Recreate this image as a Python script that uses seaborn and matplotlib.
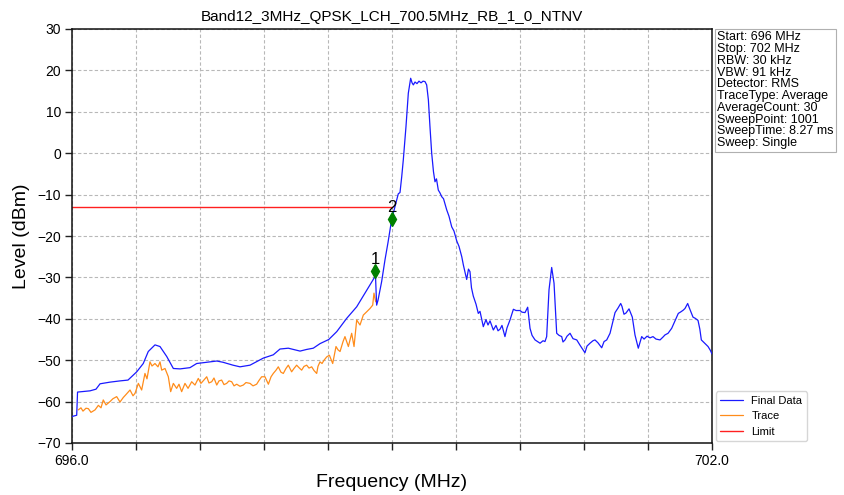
import numpy as np
import pandas as pd
import matplotlib
matplotlib.use("Agg")
import matplotlib.pyplot as plt
import seaborn as sns

# ---- measured spectrum (MHz, dBm) ----
final_freq = [
    696.000, 696.044, 696.052, 696.169, 696.225, 696.263, 696.356, 696.450, 696.525, 696.607,
    696.668, 696.715, 696.778, 696.825, 696.888, 696.950, 697.013, 697.106, 697.169, 697.294,
    697.357, 697.416, 697.509, 697.575, 697.669, 697.793, 697.887, 697.950, 698.028, 698.138,
    698.200, 698.262, 698.325, 698.407, 698.482, 698.575, 698.669, 698.763, 698.822, 698.845,
    698.856, 698.869, 698.903, 698.934, 698.963, 698.997, 699.019, 699.044, 699.059, 699.075,
    699.091, 699.106, 699.131, 699.153, 699.175, 699.188, 699.200, 699.216, 699.234, 699.253,
    699.272, 699.291, 699.309, 699.325, 699.341, 699.356, 699.372, 699.389, 699.403, 699.417,
    699.434, 699.450, 699.466, 699.483, 699.513, 699.534, 699.560, 699.581, 699.607, 699.628,
    699.654, 699.669, 699.700, 699.717, 699.731, 699.745, 699.762, 699.788, 699.809, 699.825,
    699.856, 699.881, 699.900, 699.919, 699.950, 699.975, 699.994, 700.013, 700.031, 700.059,
    700.078, 700.106, 700.138, 700.163, 700.200, 700.219, 700.247, 700.272, 700.294, 700.313,
    700.341, 700.388, 700.416, 700.434, 700.450, 700.472, 700.497, 700.519, 700.544, 700.566,
    700.591, 700.603, 700.622, 700.641, 700.669, 700.697, 700.732, 700.763, 700.791, 700.809,
    700.828, 700.856, 700.884, 700.903, 700.931, 700.966, 700.988, 701.013, 701.044, 701.063,
    701.091, 701.119, 701.144, 701.156, 701.175, 701.194, 701.222, 701.253, 701.278, 701.309,
    701.341, 701.363, 701.391, 701.419, 701.447, 701.475, 701.513, 701.541, 701.559, 701.588,
    701.622, 701.653, 701.684, 701.709, 701.731, 701.747, 701.772, 701.788, 701.822, 701.844,
    701.869, 701.886, 701.900, 701.928, 701.963, 701.984, 702.000,
]
final_level = [
    -63.6, -63.3, -57.7, -57.4, -57.0, -55.7, -55.3, -55.0, -54.8, -52.8,
    -50.8, -47.9, -46.3, -46.7, -49.1, -52.0, -52.1, -51.8, -50.8, -50.4,
    -50.2, -50.5, -51.2, -51.6, -51.2, -49.5, -48.7, -47.3, -47.1, -47.8,
    -47.4, -47.1, -46.0, -45.0, -43.1, -39.9, -37.1, -33.1, -30.6, -29.5,
    -36.7, -35.5, -31.0, -25.8, -21.5, -16.0, -13.8, -11.3, -9.8, -9.5,
    -5.7, -1.6, 6.4, 14.5, 18.1, 17.0, 16.5, 17.2, 16.8, 17.4,
    17.0, 17.4, 17.3, 16.5, 12.9, 6.4, 0.0, -4.5, -6.9, -6.2,
    -8.9, -9.6, -10.5, -11.0, -13.7, -15.2, -17.8, -18.8, -21.2, -22.5,
    -25.0, -27.0, -30.5, -28.0, -28.6, -32.5, -34.5, -36.5, -38.7, -38.2,
    -41.9, -40.2, -41.5, -40.5, -42.7, -41.6, -42.9, -42.5, -41.6, -44.3,
    -42.2, -40.3, -37.7, -38.0, -38.0, -38.4, -38.5, -37.2, -42.3, -44.0,
    -45.1, -45.9, -45.3, -45.5, -44.3, -33.0, -27.6, -31.4, -43.5, -44.0,
    -44.3, -45.6, -45.1, -44.2, -43.5, -44.8, -45.1, -46.4, -47.5, -48.2,
    -46.6, -45.9, -45.3, -45.1, -45.8, -47.0, -45.5, -45.1, -43.5, -41.5,
    -38.5, -37.4, -36.3, -37.0, -38.9, -38.6, -37.6, -39.6, -43.9, -47.1,
    -44.3, -44.9, -44.2, -44.6, -44.3, -44.9, -45.1, -44.4, -43.9, -43.5,
    -42.3, -40.5, -38.7, -38.3, -37.9, -37.5, -36.3, -37.4, -39.6, -39.9,
    -40.4, -42.5, -45.1, -45.8, -46.7, -47.6, -48.5,
]

trace_freq = [
    696.059, 696.084, 696.103, 696.131, 696.153, 696.178, 696.216, 696.247, 696.272, 696.293,
    696.319, 696.356, 696.384, 696.419, 696.450, 696.481, 696.506, 696.544, 696.572, 696.591,
    696.622, 696.653, 696.684, 696.703, 696.731, 696.750, 696.778, 696.806, 696.825, 696.841,
    696.872, 696.903, 696.925, 696.950, 696.981, 697.003, 697.028, 697.059, 697.088, 697.122,
    697.153, 697.184, 697.209, 697.233, 697.263, 697.284, 697.310, 697.331, 697.357, 697.378,
    697.403, 697.425, 697.450, 697.472, 697.497, 697.519, 697.544, 697.575, 697.606, 697.631,
    697.669, 697.697, 697.731, 697.753, 697.778, 697.809, 697.841, 697.866, 697.887, 697.913,
    697.934, 697.959, 697.981, 698.006, 698.028, 698.059, 698.081, 698.106, 698.128, 698.153,
    698.175, 698.200, 698.222, 698.247, 698.269, 698.294, 698.306, 698.325, 698.344, 698.363,
    698.388, 698.413, 698.444, 698.475, 698.494, 698.513, 698.541, 698.559, 698.591, 698.622,
    698.644, 698.669, 698.700, 698.731, 698.763, 698.794, 698.819, 698.831, 698.847,
]
trace_level = [
    -62.0, -61.5, -62.3, -61.6, -61.7, -62.6, -62.0, -60.9, -61.5, -59.6,
    -60.8, -60.0, -59.3, -58.8, -60.1, -59.0, -58.3, -57.2, -58.6, -58.0,
    -55.6, -57.2, -53.2, -54.5, -50.4, -51.4, -50.8, -51.6, -50.4, -52.4,
    -52.0, -54.0, -57.6, -55.6, -56.8, -55.8, -57.6, -55.6, -56.8, -55.2,
    -56.0, -54.4, -55.6, -54.9, -54.0, -55.5, -55.2, -54.3, -56.0, -55.0,
    -54.8, -55.9, -55.6, -55.0, -55.2, -56.2, -55.8, -56.3, -56.0, -55.4,
    -55.6, -56.2, -55.8, -54.9, -54.0, -54.0, -55.8, -54.0, -53.2, -52.4,
    -51.6, -52.9, -53.2, -52.0, -51.2, -52.8, -52.0, -51.2, -51.8, -52.4,
    -51.5, -51.2, -51.9, -51.6, -52.5, -53.2, -51.5, -50.4, -50.8, -50.0,
    -49.2, -48.8, -50.8, -46.7, -47.5, -47.9, -45.5, -44.3, -46.7, -43.5,
    -46.7, -40.3, -41.5, -39.1, -38.3, -37.5, -36.7, -33.8, -35.9,
]

limit_freq = [696.0, 699.0]
limit_level = [-13.0, -13.0]

marker_freq = [698.845, 698.997]
marker_level = [-28.5, -16.0]
marker_names = ["1", "2"]

x_tick_values = [696.0, 696.6, 697.2, 697.8, 698.4, 699.0, 699.6, 700.2, 700.8, 701.4, 702.0]
x_tick_labels = ["696.0", "", "", "", "", "", "", "", "", "", "702.0"]
y_tick_values = [-70, -60, -50, -40, -30, -20, -10, 0, 10, 20, 30]

title = "Band12_3MHz_QPSK_LCH_700.5MHz_RB_1_0_NTNV"
settings = [
    "Start: 696 MHz",
    "Stop: 702 MHz",
    "RBW: 30 kHz",
    "VBW: 91 kHz",
    "Detector: RMS",
    "TraceType: Average",
    "AverageCount: 30",
    "SweepPoint: 1001",
    "SweepTime: 8.27 ms",
    "Sweep: Single",
]

sns.set_theme(style="ticks")
plt.rcParams["font.family"] = ["Liberation Sans", "DejaVu Sans"]
plt.rcParams["axes.unicode_minus"] = True
plt.rcParams["text.color"] = "black"
plt.rcParams["axes.labelcolor"] = "black"
plt.rcParams["xtick.color"] = "black"
plt.rcParams["ytick.color"] = "black"

fig = plt.figure(figsize=(8.44, 4.95), dpi=100)
ax = fig.add_axes([72 / 844, 1 - 443 / 495, 640 / 844, 414 / 495])

final_df = pd.DataFrame({"Frequency": final_freq, "Level": final_level})
trace_df = pd.DataFrame({"Frequency": trace_freq, "Level": trace_level})
limit_df = pd.DataFrame({"Frequency": limit_freq, "Level": limit_level})

sns.lineplot(data=final_df, x="Frequency", y="Level", ax=ax, color="#1a1aff",
             lw=0.9, label="Final Data", sort=False, estimator=None, zorder=3)
sns.lineplot(data=trace_df, x="Frequency", y="Level", ax=ax, color="#ff8c1a",
             lw=0.9, label="Trace", sort=False, estimator=None, zorder=2)
sns.lineplot(data=limit_df, x="Frequency", y="Level", ax=ax, color="#ff2020",
             lw=1.0, label="Limit", sort=False, estimator=None, zorder=2)

# markers with their index labels
ax.plot(marker_freq, marker_level, linestyle="none", marker="d", ms=7,
        color="green", zorder=5)
for f, lvl, name in zip(marker_freq, marker_level, marker_names):
    ax.annotate(name, (f, lvl), xytext=(0, 3), textcoords="offset points",
                ha="center", va="bottom", fontsize=12, color="black", zorder=6)

ax.set_xlim(696.0, 702.0)
ax.set_ylim(-70, 30)
ax.set_xticks(x_tick_values)
ax.set_xticklabels(x_tick_labels)
ax.set_yticks(y_tick_values)
ax.tick_params(axis="both", labelsize=10, length=5, width=1, color="#222222",
               direction="out", pad=3)
ax.grid(True, linestyle=(0, (3, 2)), color="#b8b8b8", lw=0.8)
for s in ax.spines.values():
    s.set_color("#111111")
    s.set_linewidth(1.1)

ax.set_title(title, fontsize=11, pad=6)
ax.set_xlabel("Frequency (MHz)", fontsize=14, labelpad=4)
ax.set_ylabel("Level (dBm)", fontsize=14, labelpad=5)

ax.text(1.0085, 0.994, "\n".join(settings), transform=ax.transAxes,
        ha="left", va="top", fontsize=9, linespacing=0.97,
        bbox=dict(boxstyle="square,pad=0.2", fc="white", ec="#b0b0b0", lw=0.8))

ax.legend(loc="lower left", bbox_to_anchor=(1.006, 0.004), borderaxespad=0,
          fontsize=8, frameon=True, edgecolor="#cccccc", fancybox=True,
          handlelength=2.0, labelspacing=0.5)

fig.savefig("out.png", dpi=100)
